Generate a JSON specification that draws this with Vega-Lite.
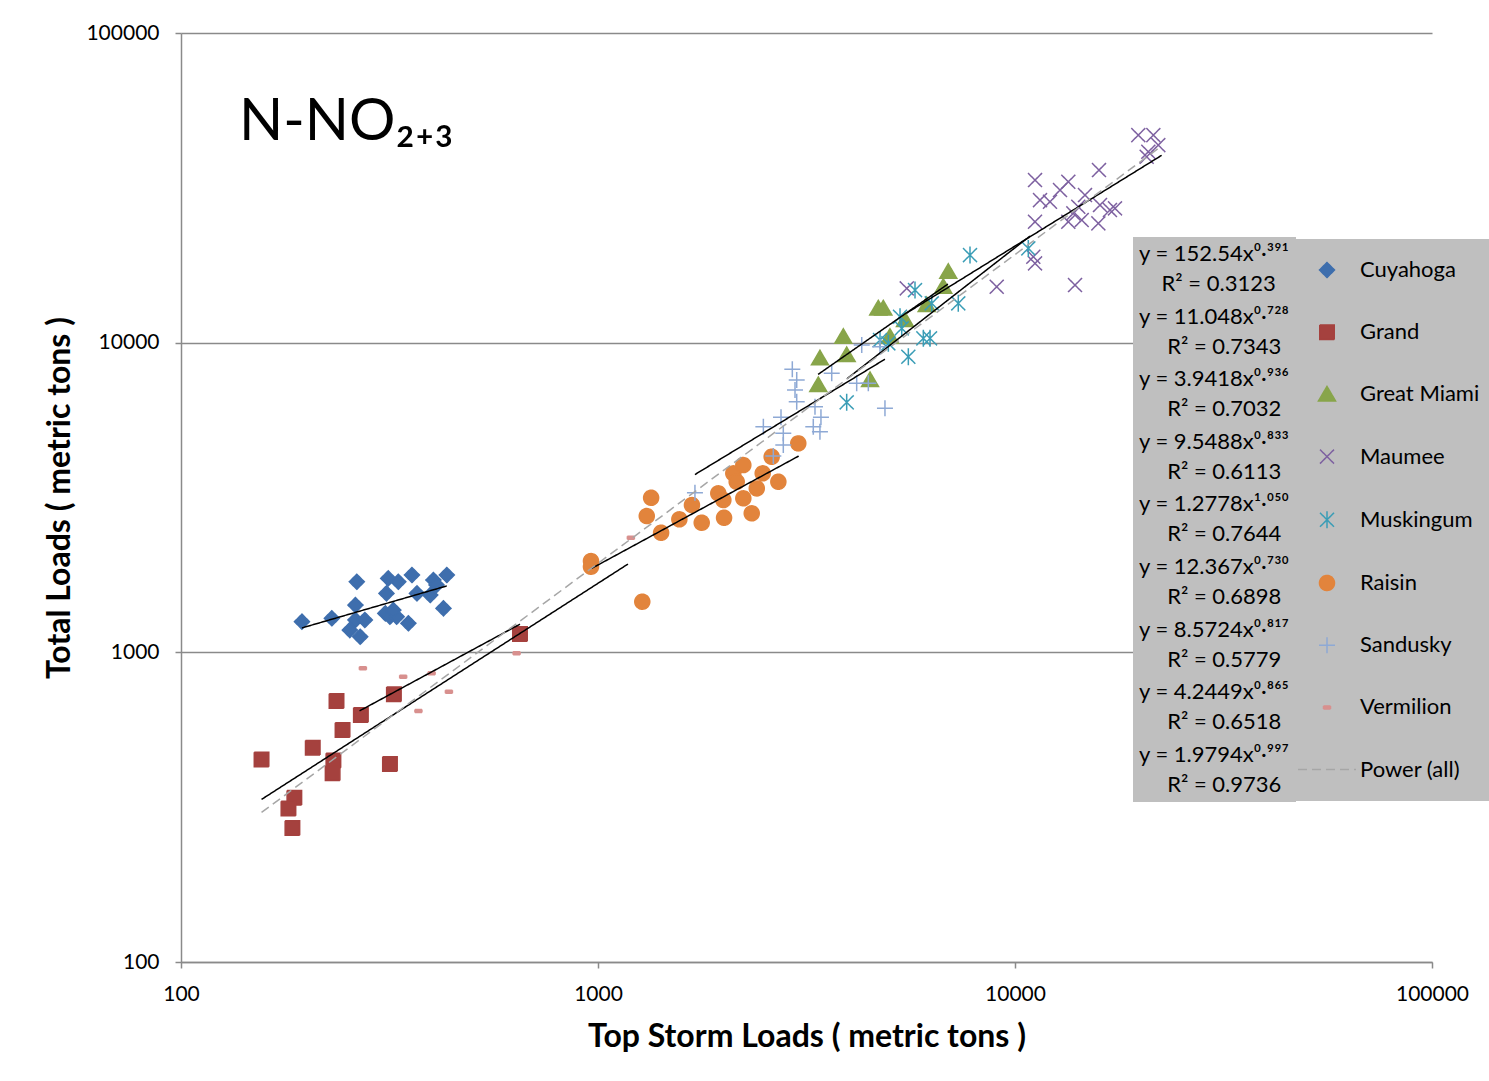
{
  "$schema": "https://vega.github.io/schema/vega-lite/v6.json",
  "width": 1251,
  "height": 929,
  "autosize": {"type": "none"},
  "padding": {"left": 181, "top": 33, "right": 57, "bottom": 119},
  "background": "white",
  "title": {"text": "N-NO₂₊₃", "anchor": "start", "frame": "group", "offset": -176, "dx": 58, "font": "Lato", "fontSize": 58, "fontWeight": "normal", "color": "#000000", "baseline": "alphabetic"},
  "config": {
    "font": "Lato",
    "axis": {"labelFont": "Lato", "labelFontSize": 21, "labelColor": "#000000", "titleFont": "Lato", "titleFontSize": 32, "titleFontWeight": "bold", "titleColor": "#000000", "domainColor": "#8a8a8a", "domainWidth": 1.5, "tickColor": "#8a8a8a", "tickWidth": 1.5, "tickSize": 6, "gridColor": "#8a8a8a", "gridWidth": 1.5, "labelFlush": false},
    "legend": {"labelFont": "Lato", "labelFontSize": 22, "labelColor": "#000000", "labelLimit": 500},
    "view": {"stroke": null}
  },
  "datasets": {
    "points": [
      {"series": "Cuyahoga", "storm": 195, "total": 1256},
      {"series": "Cuyahoga", "storm": 230, "total": 1288},
      {"series": "Cuyahoga", "storm": 264, "total": 1690},
      {"series": "Cuyahoga", "storm": 262, "total": 1421},
      {"series": "Cuyahoga", "storm": 262, "total": 1272},
      {"series": "Cuyahoga", "storm": 254, "total": 1180},
      {"series": "Cuyahoga", "storm": 269, "total": 1123},
      {"series": "Cuyahoga", "storm": 276, "total": 1272},
      {"series": "Cuyahoga", "storm": 314, "total": 1733},
      {"series": "Cuyahoga", "storm": 332, "total": 1690},
      {"series": "Cuyahoga", "storm": 311, "total": 1550},
      {"series": "Cuyahoga", "storm": 309, "total": 1336},
      {"series": "Cuyahoga", "storm": 317, "total": 1303},
      {"series": "Cuyahoga", "storm": 329, "total": 1303},
      {"series": "Cuyahoga", "storm": 351, "total": 1241},
      {"series": "Cuyahoga", "storm": 358, "total": 1777},
      {"series": "Cuyahoga", "storm": 368, "total": 1550},
      {"series": "Cuyahoga", "storm": 396, "total": 1531},
      {"series": "Cuyahoga", "storm": 403, "total": 1712},
      {"series": "Cuyahoga", "storm": 410, "total": 1650},
      {"series": "Cuyahoga", "storm": 434, "total": 1777},
      {"series": "Cuyahoga", "storm": 426, "total": 1387},
      {"series": "Cuyahoga", "storm": 323, "total": 1369},
      {"series": "Grand", "storm": 156, "total": 451},
      {"series": "Grand", "storm": 236, "total": 696},
      {"series": "Grand", "storm": 244, "total": 561},
      {"series": "Grand", "storm": 207, "total": 492},
      {"series": "Grand", "storm": 232, "total": 447},
      {"series": "Grand", "storm": 231, "total": 407},
      {"series": "Grand", "storm": 270, "total": 628},
      {"series": "Grand", "storm": 324, "total": 732},
      {"series": "Grand", "storm": 317, "total": 436},
      {"series": "Grand", "storm": 187, "total": 339},
      {"series": "Grand", "storm": 181, "total": 313},
      {"series": "Grand", "storm": 185, "total": 271},
      {"series": "Grand", "storm": 650, "total": 1146},
      {"series": "Great Miami", "storm": 6918, "total": 16934},
      {"series": "Great Miami", "storm": 6730, "total": 15152},
      {"series": "Great Miami", "storm": 4701, "total": 12904},
      {"series": "Great Miami", "storm": 4832, "total": 12904},
      {"series": "Great Miami", "storm": 3875, "total": 10448},
      {"series": "Great Miami", "storm": 5448, "total": 11830},
      {"series": "Great Miami", "storm": 5013, "total": 10448},
      {"series": "Great Miami", "storm": 3406, "total": 8899},
      {"series": "Great Miami", "storm": 3948, "total": 9120},
      {"series": "Great Miami", "storm": 3375, "total": 7298},
      {"series": "Great Miami", "storm": 4491, "total": 7573},
      {"series": "Great Miami", "storm": 6140, "total": 13226},
      {"series": "Maumee", "storm": 19754, "total": 46800},
      {"series": "Maumee", "storm": 21466, "total": 46800},
      {"series": "Maumee", "storm": 22062, "total": 43451},
      {"series": "Maumee", "storm": 20879, "total": 41344},
      {"series": "Maumee", "storm": 20692, "total": 39838},
      {"series": "Maumee", "storm": 11169, "total": 33497},
      {"series": "Maumee", "storm": 15901, "total": 36083},
      {"series": "Maumee", "storm": 12823, "total": 31097},
      {"series": "Maumee", "storm": 13423, "total": 33078},
      {"series": "Maumee", "storm": 11482, "total": 28867},
      {"series": "Maumee", "storm": 12131, "total": 28510},
      {"series": "Maumee", "storm": 14718, "total": 29965},
      {"series": "Maumee", "storm": 14184, "total": 27470},
      {"series": "Maumee", "storm": 13798, "total": 26157},
      {"series": "Maumee", "storm": 15989, "total": 27819},
      {"series": "Maumee", "storm": 16894, "total": 26810},
      {"series": "Maumee", "storm": 17368, "total": 27146},
      {"series": "Maumee", "storm": 11169, "total": 24573},
      {"series": "Maumee", "storm": 13423, "total": 24573},
      {"series": "Maumee", "storm": 14454, "total": 24887},
      {"series": "Maumee", "storm": 15843, "total": 24281},
      {"series": "Maumee", "storm": 11065, "total": 18939},
      {"series": "Maumee", "storm": 11169, "total": 18031},
      {"series": "Maumee", "storm": 13929, "total": 15346},
      {"series": "Maumee", "storm": 9040, "total": 15152},
      {"series": "Maumee", "storm": 5501, "total": 14972},
      {"series": "Muskingum", "storm": 7800, "total": 19176},
      {"series": "Muskingum", "storm": 5757, "total": 14783},
      {"series": "Muskingum", "storm": 6314, "total": 13395},
      {"series": "Muskingum", "storm": 7311, "total": 13395},
      {"series": "Muskingum", "storm": 5300, "total": 12124},
      {"series": "Muskingum", "storm": 5350, "total": 11121},
      {"series": "Muskingum", "storm": 4746, "total": 10195},
      {"series": "Muskingum", "storm": 4969, "total": 9948},
      {"series": "Muskingum", "storm": 6028, "total": 10325},
      {"series": "Muskingum", "storm": 6255, "total": 10325},
      {"series": "Muskingum", "storm": 5549, "total": 9006},
      {"series": "Muskingum", "storm": 3948, "total": 6416},
      {"series": "Muskingum", "storm": 10762, "total": 20160},
      {"series": "Raisin", "storm": 962, "total": 1971},
      {"series": "Raisin", "storm": 962, "total": 1890},
      {"series": "Raisin", "storm": 1341, "total": 3156},
      {"series": "Raisin", "storm": 1309, "total": 2755},
      {"series": "Raisin", "storm": 1417, "total": 2433},
      {"series": "Raisin", "storm": 1567, "total": 2688},
      {"series": "Raisin", "storm": 1680, "total": 2989},
      {"series": "Raisin", "storm": 1773, "total": 2621},
      {"series": "Raisin", "storm": 1943, "total": 3262},
      {"series": "Raisin", "storm": 1998, "total": 3102},
      {"series": "Raisin", "storm": 2006, "total": 2720},
      {"series": "Raisin", "storm": 2111, "total": 3784},
      {"series": "Raisin", "storm": 2151, "total": 3555},
      {"series": "Raisin", "storm": 2231, "total": 4025},
      {"series": "Raisin", "storm": 2231, "total": 3143},
      {"series": "Raisin", "storm": 2337, "total": 2811},
      {"series": "Raisin", "storm": 2403, "total": 3384},
      {"series": "Raisin", "storm": 2483, "total": 3784},
      {"series": "Raisin", "storm": 2609, "total": 4281},
      {"series": "Raisin", "storm": 2707, "total": 3555},
      {"series": "Raisin", "storm": 3022, "total": 4729},
      {"series": "Raisin", "storm": 1277, "total": 1457},
      {"series": "Sandusky", "storm": 2924, "total": 8202},
      {"series": "Sandusky", "storm": 2996, "total": 7573},
      {"series": "Sandusky", "storm": 2968, "total": 7031},
      {"series": "Sandusky", "storm": 2996, "total": 6445},
      {"series": "Sandusky", "storm": 2747, "total": 5739},
      {"series": "Sandusky", "storm": 2492, "total": 5351},
      {"series": "Sandusky", "storm": 2782, "total": 5095},
      {"series": "Sandusky", "storm": 2782, "total": 4671},
      {"series": "Sandusky", "storm": 2633, "total": 4303},
      {"series": "Sandusky", "storm": 3314, "total": 6209},
      {"series": "Sandusky", "storm": 3425, "total": 5739},
      {"series": "Sandusky", "storm": 3283, "total": 5351},
      {"series": "Sandusky", "storm": 3406, "total": 5156},
      {"series": "Sandusky", "storm": 3635, "total": 7961},
      {"series": "Sandusky", "storm": 4172, "total": 7391},
      {"series": "Sandusky", "storm": 4449, "total": 7391},
      {"series": "Sandusky", "storm": 4877, "total": 6135},
      {"series": "Sandusky", "storm": 4290, "total": 9824},
      {"series": "Sandusky", "storm": 1708, "total": 3276},
      {"series": "Sandusky", "storm": 4746, "total": 9700},
      {"series": "Vermilion", "storm": 273, "total": 888},
      {"series": "Vermilion", "storm": 341, "total": 834},
      {"series": "Vermilion", "storm": 399, "total": 856},
      {"series": "Vermilion", "storm": 439, "total": 746},
      {"series": "Vermilion", "storm": 371, "total": 646},
      {"series": "Vermilion", "storm": 638, "total": 993},
      {"series": "Vermilion", "storm": 1199, "total": 2344}
    ],
    "fits": [
      {"fit": "y = 152.54x⁰·³⁹¹|\u200b\u00a0\u00a0\u00a0\u00a0R² = 0.3123", "series": "Cuyahoga", "storm": 195, "total": 1199},
      {"fit": "y = 152.54x⁰·³⁹¹|\u200b\u00a0\u00a0\u00a0\u00a0R² = 0.3123", "series": "Cuyahoga", "storm": 434, "total": 1639},
      {"fit": "y = 11.048x⁰·⁷²⁸|\u200b\u00a0\u00a0\u00a0\u00a0\u00a0R² = 0.7343", "series": "Grand", "storm": 268, "total": 647},
      {"fit": "y = 11.048x⁰·⁷²⁸|\u200b\u00a0\u00a0\u00a0\u00a0\u00a0R² = 0.7343", "series": "Grand", "storm": 650, "total": 1233},
      {"fit": "y = 3.9418x⁰·⁹³⁶|\u200b\u00a0\u00a0\u00a0\u00a0\u00a0R² = 0.7032", "series": "Great Miami", "storm": 3371, "total": 7897},
      {"fit": "y = 3.9418x⁰·⁹³⁶|\u200b\u00a0\u00a0\u00a0\u00a0\u00a0R² = 0.7032", "series": "Great Miami", "storm": 6907, "total": 15465},
      {"fit": "y = 9.5488x⁰·⁸³³|\u200b\u00a0\u00a0\u00a0\u00a0\u00a0R² = 0.6113", "series": "Maumee", "storm": 5501, "total": 12466},
      {"fit": "y = 9.5488x⁰·⁸³³|\u200b\u00a0\u00a0\u00a0\u00a0\u00a0R² = 0.6113", "series": "Maumee", "storm": 22475, "total": 40272},
      {"fit": "y = 1.2778x¹·⁰⁵⁰|\u200b\u00a0\u00a0\u00a0\u00a0\u00a0R² = 0.7644", "series": "Muskingum", "storm": 3954, "total": 7645},
      {"fit": "y = 1.2778x¹·⁰⁵⁰|\u200b\u00a0\u00a0\u00a0\u00a0\u00a0R² = 0.7644", "series": "Muskingum", "storm": 10864, "total": 22094},
      {"fit": "y = 12.367x⁰·⁷³⁰|\u200b\u00a0\u00a0\u00a0\u00a0\u00a0R² = 0.6898", "series": "Raisin", "storm": 966, "total": 1867},
      {"fit": "y = 12.367x⁰·⁷³⁰|\u200b\u00a0\u00a0\u00a0\u00a0\u00a0R² = 0.6898", "series": "Raisin", "storm": 3029, "total": 4304},
      {"fit": "y = 8.5724x⁰·⁸¹⁷|\u200b\u00a0\u00a0\u00a0\u00a0\u00a0R² = 0.5779", "series": "Sandusky", "storm": 1708, "total": 3751},
      {"fit": "y = 8.5724x⁰·⁸¹⁷|\u200b\u00a0\u00a0\u00a0\u00a0\u00a0R² = 0.5779", "series": "Sandusky", "storm": 4875, "total": 8841},
      {"fit": "y = 4.2449x⁰·⁸⁶⁵|\u200b\u00a0\u00a0\u00a0\u00a0\u00a0R² = 0.6518", "series": "Vermilion", "storm": 156, "total": 335},
      {"fit": "y = 4.2449x⁰·⁸⁶⁵|\u200b\u00a0\u00a0\u00a0\u00a0\u00a0R² = 0.6518", "series": "Vermilion", "storm": 1180, "total": 1928},
      {"fit": "y = 1.9794x⁰·⁹⁹⁷|\u200b\u00a0\u00a0\u00a0\u00a0\u00a0R² = 0.9736", "series": "Power (all)", "storm": 156, "total": 304},
      {"fit": "y = 1.9794x⁰·⁹⁹⁷|\u200b\u00a0\u00a0\u00a0\u00a0\u00a0R² = 0.9736", "series": "Power (all)", "storm": 22475, "total": 43170}
    ]
  },
  "layer": [
    {
      "data": {"name": "points"},
      "mark": {"type": "point", "size": 4, "strokeWidth": 1.5, "opacity": 1},
      "encoding": {
        "x": {"field": "storm", "type": "quantitative", "scale": {"type": "log", "domain": [100, 100000], "nice": false},
              "axis": {"values": [100, 1000, 10000, 100000], "format": "d", "grid": false, "labelPadding": 15, "title": "Top Storm Loads ( metric tons )", "titlePadding": 17}},
        "y": {"field": "total", "type": "quantitative", "scale": {"type": "log", "domain": [100, 100000], "nice": false},
              "axis": {"values": [100, 1000, 10000, 100000], "format": "d", "grid": true, "labelPadding": 16, "title": "Total Loads ( metric tons )", "titlePadding": 9}},
        "fill": {"field": "series", "type": "nominal",
                 "scale": {"domain": ["Cuyahoga", "Grand", "Great Miami", "Maumee", "Muskingum", "Raisin", "Sandusky", "Vermilion", "Power (all)"],
                           "range": ["#3E6EAD", "#A5413E", "#88A54A", "#7D60A0", "#3A9DB6", "#E2843C", "#8EA9D5", "#D8908E", "#A6A6A6"]},
                 "legend": {"title": null, "orient": "none", "legendX": 1115, "legendY": 206, "padding": 20, "rowPadding": 40.2, "fillColor": "#bfbfbf", "symbolSize": 4, "symbolStrokeWidth": 1.5, "labelOffset": 22, "labelFont": "Lato", "labelFontSize": 22, "labelColor": "#000000", "labelLimit": 500}},
        "stroke": {"field": "series", "type": "nominal",
                   "scale": {"domain": ["Cuyahoga", "Grand", "Great Miami", "Maumee", "Muskingum", "Raisin", "Sandusky", "Vermilion", "Power (all)"],
                             "range": ["#3E6EAD", "#A5413E", "#88A54A", "#7D60A0", "#3A9DB6", "#E2843C", "#8EA9D5", "#D8908E", "#A6A6A6"]}},
        "shape": {"field": "series", "type": "nominal",
                  "scale": {"domain": ["Cuyahoga", "Grand", "Great Miami", "Maumee", "Muskingum", "Raisin", "Sandusky", "Vermilion", "Power (all)"],
                            "range": ["M0,-7.5L7.5,0L0,7.5L-7.5,0Z", "M-7.25,-7.25H7.25V7.25H-7.25Z", "M0,-8L8.5,6.5L-8.5,6.5Z", "M-7,-7L7,7M-7,7L7,-7", "M-7,-7L7,7M-7,7L7,-7M0,-8.5L0,8.5", "M-7.5,0A7.5,7.5,0,1,0,7.5,0A7.5,7.5,0,1,0,-7.5,0Z", "M-8,0H8M0,-8V8", "M-3.5,-1.5H3.5V1.5H-3.5Z", "M-29,0H29"]}},
        "strokeDash": {"field": "series", "type": "nominal",
                       "scale": {"domain": ["Cuyahoga", "Grand", "Great Miami", "Maumee", "Muskingum", "Raisin", "Sandusky", "Vermilion", "Power (all)"],
                                 "range": [[1, 0], [1, 0], [1, 0], [1, 0], [1, 0], [1, 0], [1, 0], [1, 0], [9, 5]]}}
      }
    },
    {
      "data": {"name": "fits"},
      "mark": {"type": "line", "strokeWidth": 1.5},
      "encoding": {
        "x": {"field": "storm", "type": "quantitative"},
        "y": {"field": "total", "type": "quantitative"},
        "color": {"field": "fit", "type": "nominal", "sort": null,
                  "scale": {"range": ["#000000", "#000000", "#000000", "#000000", "#000000", "#000000", "#000000", "#000000", "#A6A6A6"]},
                  "legend": {"title": null, "orient": "none", "legendX": 952, "legendY": 204, "padding": 6, "rowPadding": 10.6, "fillColor": "#bfbfbf", "symbolSize": 0, "symbolStrokeWidth": 0, "symbolOpacity": 0, "labelOffset": -22, "labelExpr": "split(datum.label, '|')", "labelFont": "Lato", "labelFontSize": 22, "labelColor": "#000000", "labelLimit": 500,
                             "encode": {"labels": {"update": {"lineHeight": {"value": 30}}}}}},
        "strokeDash": {"condition": {"test": "datum.series === 'Power (all)'", "value": [9, 5]}, "value": [1, 0]}
      }
    }
  ]
}
